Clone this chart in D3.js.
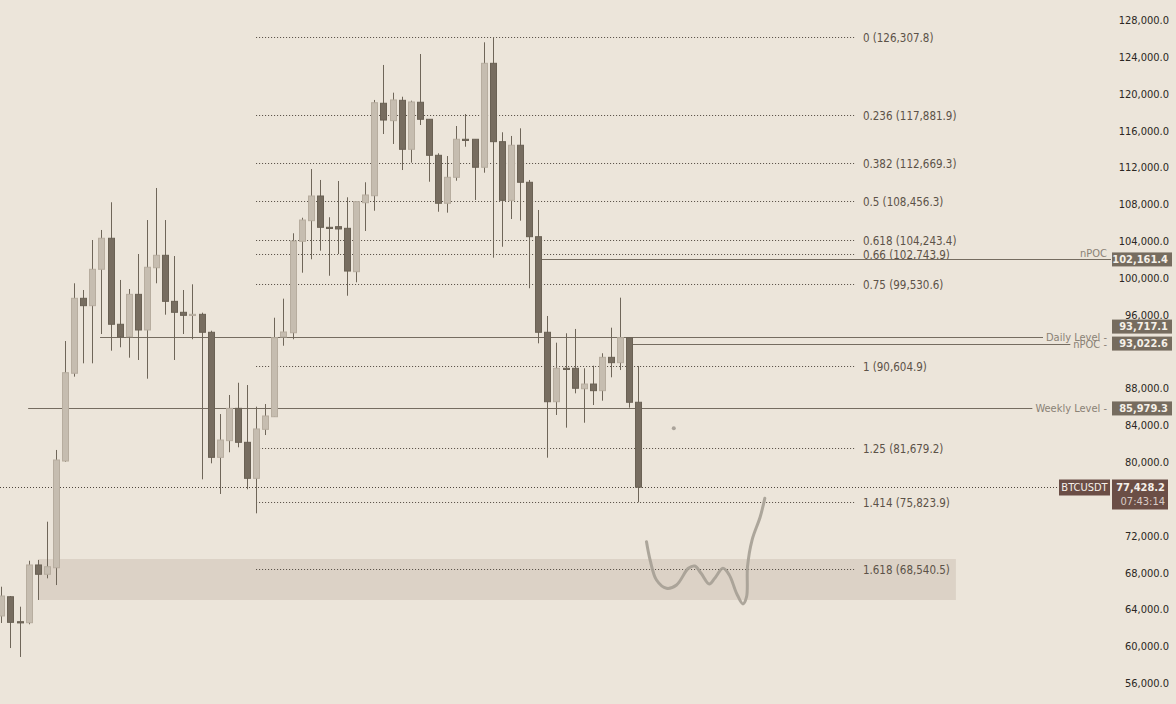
<!DOCTYPE html>
<html><head><meta charset="utf-8">
<script src="https://cdn.jsdelivr.net/npm/d3@7"></script>
<style>
html,body{margin:0;padding:0;background:#ece5da;}
svg{display:block;}
text{font-family:"DejaVu Sans Condensed","DejaVu Sans",sans-serif;}
</style>
</head><body>
<svg id="c" width="1176" height="704"></svg>
<script>
// ---------- DATA ----------
const opens  = [63440,65530,62820,62710,68980,67970,68680,80270,89800,97940,97140,101090,104460,95120,93770,98370,94500,101260,102610,97610,96420,96090,96200,94250,80670,82480,85990,82300,78390,83710,85080,93740,94200,104130,106370,109050,105650,105720,105540,100830,108320,109080,119120,117230,119440,114120,119230,117380,113470,108260,111080,115210,115210,112170,123460,114950,108580,114560,110540,104630,94250,86710,90340,90340,88120,88630,87910,91530,90950,93660,86650];
const highs  = [66620,65610,64450,69440,69520,73680,81470,93300,99570,98840,104270,105360,108370,99930,98950,102750,106440,109920,106440,102530,98840,99460,96380,94420,85370,87440,88770,88520,86170,86460,95830,97900,105000,106690,111980,110790,106740,110680,108910,108430,110540,119480,123280,120270,119830,119400,124470,117380,113690,113390,116650,117950,115210,125740,126308,115970,115570,116400,110790,107530,96020,93120,94140,94610,90340,90620,91970,94750,98010,93660,90590];
const lows   = [62680,59960,58990,62540,65180,67530,66800,80190,89430,90880,90880,94060,92250,92620,91490,91240,89210,99570,96160,91240,94060,93490,78280,80020,76690,81220,81760,77200,74590,83090,85080,92790,93490,100720,102180,103110,100390,102750,98220,99680,105250,107450,115780,114700,111870,112670,116760,110600,107340,107240,110710,114400,108620,111580,102350,103540,106550,106370,99030,93050,80630,85270,83890,87620,84430,86350,86820,89360,90150,86060,75790];
const closes = [65610,62750,62790,68980,67970,68790,80380,89860,97940,97140,101090,104460,95120,93770,98370,94500,101310,102610,97610,96420,96090,96200,94250,80670,82550,85990,82300,78390,83750,85160,93660,94280,104160,106440,109050,105650,105600,105470,100900,108430,109160,119180,117300,119480,114120,119260,117380,113470,108260,111080,115210,115150,112170,123460,114950,108580,114560,110540,104630,94250,86710,90340,90300,88170,88630,87910,91530,90950,93660,86650,77428.2];

const fibRatios = ["0","0.236","0.382","0.5","0.618","0.66","0.75","1","1.25","1.414","1.618"];
const fibPrices = [126307.8,117881.9,112669.3,108456.3,104243.4,102743.9,99530.6,90604.9,81679.2,75823.9,68540.5];
const fibAnchor = [28, 93.8];            // bar index span of the fib tool

const levelNames  = ["nPOC","Daily Level -","nPOC -","Weekly Level -"];
const levelPrices = [102161.4,93717.1,93022.6,85979.3];
const levelStart  = [59.33,10.85,69.33,2.95]; // bar index where each level starts

const zonePrices = [69627,65175];
const zoneAnchor = [4.03,104.9];

const projIdx   = [70.9,71.3,72.0,73.1,74.2,75.5,76.2,76.9,77.8,78.4,79.3,80.0,80.8,81.5,81.9,82.0,82.5,83.4,83.9];
const projPrice = [71506,69519,67347,66446,66804,68618,68867,68075,66912,67532,68618,67890,65903,64740,65533,68791,71691,74221,76220];
const dotPoint  = [73.9,83822];

const priceTicks = d3.range(56000,128001,4000);
const symbol = "BTCUSDT", lastPrice = 77428.2, countdown = "07:43:14";

// ---------- CHART ----------
const svg = d3.select("#c");
const W = 1176, H = 704;
const x = d3.scaleLinear().domain([0,70]).range([1.3,638.3]);
const y = d3.scaleLinear().domain([128000,56000]).range([21.5,684.5]);
const fmt = d3.format(",.1f");

svg.append("rect").attr("width",W).attr("height",H).attr("fill","#ece5da");

// zone
svg.append("rect")
  .attr("x",x(zoneAnchor[0])).attr("width",x(zoneAnchor[1])-x(zoneAnchor[0]))
  .attr("y",y(zonePrices[0])).attr("height",y(zonePrices[1])-y(zonePrices[0]))
  .attr("fill","#dcd2c6");

// fib lines
const fibG = svg.append("g");
fibPrices.forEach((p,i)=>{
  const yy = Math.round(y(p))+0.5;
  fibG.append("line").attr("x1",x(fibAnchor[0])).attr("x2",x(fibAnchor[1]))
    .attr("y1",yy).attr("y2",yy).attr("stroke","#4f463d").attr("stroke-width",1)
    .attr("stroke-dasharray","1,2");
  fibG.append("text").attr("x",x(fibAnchor[1])+8).attr("y",yy).attr("dy","0.35em")
    .attr("font-size",11.5).attr("fill","#5c5248")
    .text(`${fibRatios[i]} (${fmt(p)})`);
});

// current price dotted line
const yLast = Math.round(y(lastPrice))+0.5;
svg.append("line").attr("x1",0).attr("x2",1058).attr("y1",yLast).attr("y2",yLast)
  .attr("stroke","#4f463d").attr("stroke-dasharray","1,2");

// level lines + labels
const lvlG = svg.append("g");
levelPrices.forEach((p,i)=>{
  const yy = Math.round(y(p))+0.5;
  const above = i===0;
  const t = lvlG.append("text").attr("x",1107).attr("y", above ? yy-3 : yy)
    .attr("dy", above ? "0" : "0.35em").attr("text-anchor","end")
    .attr("font-size",11).attr("fill","#8a8276").text(levelNames[i]);
  const bb = t.node().getBBox();
  const xEnd = above ? 1111 : bb.x-3;
  lvlG.insert("line","text").attr("x1",x(levelStart[i])).attr("x2",xEnd)
    .attr("y1",yy).attr("y2",yy).attr("stroke","#756c60").attr("stroke-width",1);
});

// candles
const candles = opens.map((o,i)=>({i,o,h:highs[i],l:lows[i],c:closes[i]}));
const cg = svg.append("g");
cg.selectAll("line.w").data(candles).join("line")
  .attr("x1",d=>Math.round(x(d.i))+0.5).attr("x2",d=>Math.round(x(d.i))+0.5)
  .attr("y1",d=>y(d.h)).attr("y2",d=>y(d.l))
  .attr("stroke","#6f6659").attr("stroke-width",1);
cg.selectAll("rect.b").data(candles).join("rect")
  .attr("x",d=>Math.round(x(d.i))-2.5).attr("width",6)
  .attr("y",d=>y(Math.max(d.o,d.c)))
  .attr("height",d=>Math.max(1.2,Math.abs(y(d.o)-y(d.c))))
  .attr("fill",d=>d.c>=d.o?"#c6bdb0":"#776d60")
  .attr("stroke",d=>d.c>=d.o?"#b7ad9f":"#6a6154").attr("stroke-width",1);

// projection squiggle
const proj = projIdx.map((v,i)=>[x(v),y(projPrice[i])]);
svg.append("path").attr("d",d3.line().curve(d3.curveCatmullRom.alpha(0.5))(proj))
  .attr("fill","none").attr("stroke","#a59e94").attr("stroke-width",3)
  .attr("stroke-linecap","round").attr("stroke-linejoin","round").attr("opacity",0.9);
svg.append("circle").attr("cx",x(dotPoint[0])).attr("cy",y(dotPoint[1])).attr("r",2)
  .attr("fill","#aaa39a");

// level price boxes with collision avoidance
const boxH = 14;
const boxes = levelPrices.map((p,i)=>({p,cy:y(p)})).sort((a,b)=>b.cy-a.cy);
for(let k=1;k<boxes.length;k++){
  const lower = boxes[k-1], cur = boxes[k];
  if(lower.cy - cur.cy < boxH+3) cur.cy = lower.cy - (boxH+3);
}
const occupied = boxes.map(b=>[b.cy-boxH/2, b.cy+boxH/2]);
occupied.push([yLast-8, yLast+22]);

// right axis (labels hidden where a price box covers them)
const axis = d3.axisRight(y).tickValues(priceTicks).tickFormat(fmt).tickSize(0).tickPadding(0);
const ag = svg.append("g").attr("transform","translate(1169,-1.5)").call(axis);
ag.select(".domain").remove();
ag.selectAll(".tick").filter(d=>{
  const cy = y(d)-1.5;
  return occupied.some(([a,b])=> cy+3 > a && cy-3 < b);
}).remove();
ag.selectAll("text").attr("text-anchor","end").attr("x",0)
  .attr("font-family","DejaVu Sans Condensed, DejaVu Sans, sans-serif")
  .attr("font-size",11).attr("fill","#2b2723");

const bg = svg.append("g");
boxes.forEach(b=>{
  bg.append("rect").attr("x",1112).attr("y",b.cy-boxH/2).attr("width",60).attr("height",boxH)
    .attr("fill","#766c5f");
  bg.append("text").attr("x",1168).attr("y",b.cy).attr("dy","0.35em").attr("text-anchor","end")
    .attr("font-size",11).attr("font-weight","bold").attr("fill","#f5f0e8").text(fmt(b.p));
});

// symbol + last price
bg.append("rect").attr("x",1059).attr("y",yLast-8).attr("width",51).attr("height",16).attr("fill","#6b4e46");
bg.append("text").attr("x",1084.5).attr("y",yLast).attr("dy","0.35em").attr("text-anchor","middle")
  .attr("font-size",11).attr("fill","#f5efe9").text(symbol);
bg.append("rect").attr("x",1112).attr("y",yLast-8).attr("width",56).attr("height",30).attr("fill","#6b4e46");
bg.append("text").attr("x",1165).attr("y",yLast).attr("dy","0.35em").attr("text-anchor","end")
  .attr("font-size",11).attr("font-weight","bold").attr("fill","#f5efe9").text(fmt(lastPrice));
bg.append("text").attr("x",1165).attr("y",yLast+14).attr("dy","0.35em").attr("text-anchor","end")
  .attr("font-size",11).attr("fill","#d8cbc6").text(countdown);
</script>
</body></html>
